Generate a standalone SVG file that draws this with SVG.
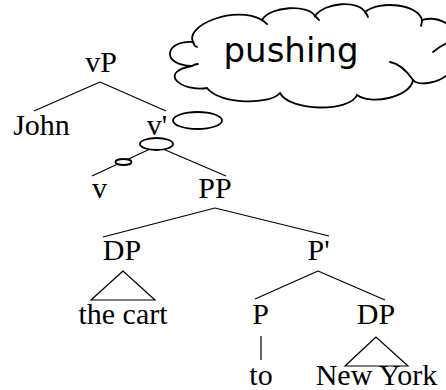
<svg xmlns="http://www.w3.org/2000/svg" width="446" height="390" viewBox="0 0 446 390">
<style>
.t{font-family:"Liberation Serif","Times New Roman",serif;font-size:30px;fill:#000;text-anchor:middle}
.l{stroke:#000;stroke-width:1.2;fill:none}
.b{stroke:#000;stroke-width:1.8;fill:#fff}
.c{stroke:#000;stroke-width:1.8;fill:none;stroke-linecap:round}
</style>
<rect width="446" height="390" fill="#fff"/>
<g id="connectors">
<line class="l" x1="100" y1="82" x2="34" y2="111"/>
<line class="l" x1="100" y1="82" x2="166" y2="111"/>
<line class="l" x1="150" y1="149" x2="92" y2="176"/>
<line class="l" x1="163" y1="149" x2="226" y2="176"/>
<line class="l" x1="215" y1="208" x2="103" y2="237"/>
<line class="l" x1="215" y1="208" x2="329" y2="236"/>
<polygon class="l" points="123,271 91,300 155,300"/>
<line class="l" x1="318" y1="271" x2="255" y2="299"/>
<line class="l" x1="318" y1="271" x2="385" y2="300"/>
<line class="l" x1="261" y1="336" x2="261" y2="360"/>
<polygon class="l" points="376,337 345,366 408,366"/>
</g>
<g id="thought">
<path class="b" d="M193,42 C185,25 235,5 262,20 C270,6 308,4 315,16 C325,2 358,0 365,12 C380,0 418,4 422,20 C440,15 462,28 458,48 C470,60 462,75 450,72 C440,84 418,86 413,80 C410,98 370,105 357,95 C350,112 290,112 280,93 C270,105 220,105 207,88 C180,92 158,72 192,66 C160,65 165,40 193,42 Z"/>
<path class="c" d="M193,42 Q194,46 197,47 M262,20 Q265,22 267,24 M315,16 Q317,18 319,20 M365,12 Q367,14 368,17 M422,20 Q422,23 421,26 M433,52 Q440,46 447,43 M390,62 Q402,64 413,80 M192,66 Q195,64 198,64"/>
<text x="291" y="62" style="font-family:'DejaVu Sans',sans-serif;font-size:34px;fill:#000;text-anchor:middle">pushing</text>
<ellipse class="b" cx="197.5" cy="120.5" rx="24.5" ry="8.5"/>
<ellipse class="b" cx="156.5" cy="144" rx="16.5" ry="6"/>
<ellipse class="b" cx="123.5" cy="162" rx="8" ry="3"/>
</g>
<g id="n-vP"><text class="t" x="101" y="72">vP</text></g>
<g id="n-John"><text class="t" x="41.5" y="135">John</text></g>
<g id="n-vbar"><text class="t" x="157" y="135">v'</text></g>
<g id="n-v"><text class="t" x="99.5" y="198">v</text></g>
<g id="n-PP"><text class="t" x="215" y="198">PP</text></g>
<g id="n-DP1"><text class="t" x="122" y="260">DP</text></g>
<g id="n-Pbar"><text class="t" x="318.5" y="260">P'</text></g>
<g id="n-thecart"><text class="t" x="123" y="324">the cart</text></g>
<g id="n-P"><text class="t" x="260.5" y="324">P</text></g>
<g id="n-DP2"><text class="t" x="376" y="324">DP</text></g>
<g id="n-to"><text class="t" x="261" y="385">to</text></g>
<g id="n-NewYork"><text class="t" x="376.5" y="385">New York</text></g>
</svg>
